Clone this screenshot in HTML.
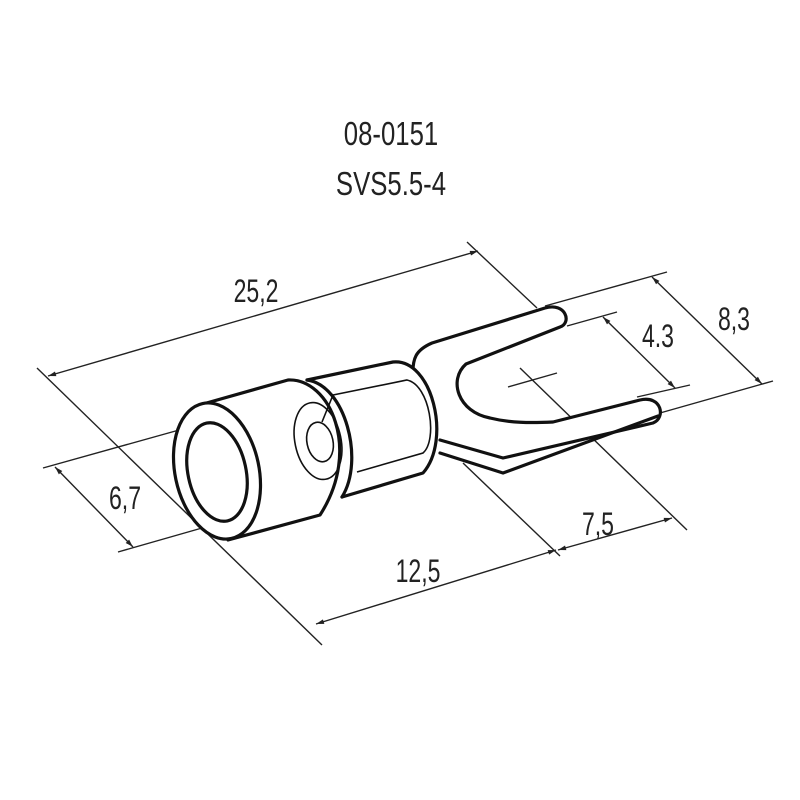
<!DOCTYPE html>
<html><head><meta charset="utf-8"><style>
html,body{margin:0;padding:0;background:#fff;}
svg{display:block}
text{font-family:"Liberation Sans",sans-serif;fill:#222;}
</style></head><body>
<svg width="800" height="800" viewBox="0 0 800 800" xmlns="http://www.w3.org/2000/svg">
<defs>
<marker id="a" viewBox="0 0 10 10" refX="10" refY="5" markerWidth="14" markerHeight="8" markerUnits="userSpaceOnUse" orient="auto-start-reverse">
<path d="M0,2 L10,5 L0,8 z" fill="#222"/></marker>
</defs>
<!-- titles -->
<text x="391" y="145" font-size="33" text-anchor="middle" transform="translate(391 0) scale(0.78 1) translate(-391 0)">08-0151</text>
<text x="391" y="195" font-size="33" text-anchor="middle" transform="translate(391 0) scale(0.78 1) translate(-391 0)">SVS5.5-4</text>

<g stroke="#222" stroke-width="1.4" fill="none">
<!-- 25.2 -->
<line x1="37" y1="368" x2="322" y2="645"/>
<line x1="467" y1="242" x2="537" y2="308"/>
<line x1="48" y1="376" x2="478" y2="251" marker-start="url(#a)" marker-end="url(#a)"/>
<!-- 6.7 -->
<line x1="43" y1="468" x2="197" y2="425"/>
<line x1="118" y1="552" x2="223" y2="522"/>
<line x1="55" y1="467" x2="133" y2="547" marker-start="url(#a)" marker-end="url(#a)"/>
<!-- 12.5 / 7.5 -->
<line x1="463" y1="463" x2="560" y2="556"/>
<line x1="316" y1="624" x2="556" y2="550" marker-start="url(#a)" marker-end="url(#a)"/>
<line x1="558" y1="550" x2="672" y2="518" marker-start="url(#a)" marker-end="url(#a)"/>
<!-- center cross -->
<line x1="508" y1="387" x2="557" y2="373"/>
<line x1="520" y1="368" x2="687" y2="530"/>
<!-- 8.3 -->
<line x1="545" y1="306" x2="667" y2="272"/>
<line x1="660" y1="413" x2="773" y2="381"/>
<line x1="652" y1="277" x2="762" y2="384" marker-start="url(#a)" marker-end="url(#a)"/>
<!-- 4.3 -->
<line x1="567" y1="326" x2="617" y2="312"/>
<line x1="637" y1="397" x2="690" y2="385"/>
<line x1="603" y1="317" x2="675" y2="388" marker-start="url(#a)" marker-end="url(#a)"/>
</g>

<g font-size="32">
<text x="256" y="302" text-anchor="middle" transform="translate(256 0) scale(0.72 1) translate(-256 0)">25,2</text>
<text x="125" y="509" text-anchor="middle" transform="translate(125 0) scale(0.72 1) translate(-125 0)">6,7</text>
<text x="418" y="582" text-anchor="middle" transform="translate(418 0) scale(0.72 1) translate(-418 0)">12,5</text>
<text x="598" y="535" text-anchor="middle" transform="translate(598 0) scale(0.72 1) translate(-598 0)">7,5</text>
<text x="658" y="347" text-anchor="middle" transform="translate(658 0) scale(0.72 1) translate(-658 0)">4.3</text>
<text x="734" y="330" text-anchor="middle" transform="translate(734 0) scale(0.72 1) translate(-734 0)">8,3</text>
</g>

<!-- body -->
<g stroke="#111" stroke-width="3.2" fill="none" stroke-linejoin="round" stroke-linecap="round">
<!-- fork -->
<path d="M413,377 C412,358 416,350 432,343 L545,308 C566,302 572,323 560,327 L466,364 C448,380 458,412 490,418 C510,423 530,423 553,422 L640,400 C662,395 666,418 653,423 L503,458 L440,440" fill="#fff"/>
<path d="M658,416 L503,473 L440,453"/>
<!-- second cylinder -->
<path d="M307,380 L393,362 C432,358 452,440 423,473 L342,497" fill="#fff"/>
<path d="M307,380 C345,385 365,460 342,497"/>
<!-- first cylinder -->
<path d="M203,404 L288,380 C330,378 362,450 320,515 L228,540" fill="#fff"/>
<ellipse cx="217" cy="471" rx="42" ry="69" transform="rotate(-12 217 471)" fill="#fff"/>
<ellipse cx="217" cy="472" rx="29" ry="50" transform="rotate(-12 217 472)"/>
</g>
<g stroke="#111" stroke-width="1.6" fill="none">
<path d="M333,395 L407,380 C430,385 438,440 423,453 L357,472"/>
<ellipse cx="318" cy="441" rx="23" ry="39" transform="rotate(-12 318 441)"/>
<ellipse cx="320" cy="442" rx="13" ry="20" transform="rotate(-12 320 442)"/>
<line x1="322" y1="422" x2="333" y2="395"/>
</g>
</svg>
</body></html>
